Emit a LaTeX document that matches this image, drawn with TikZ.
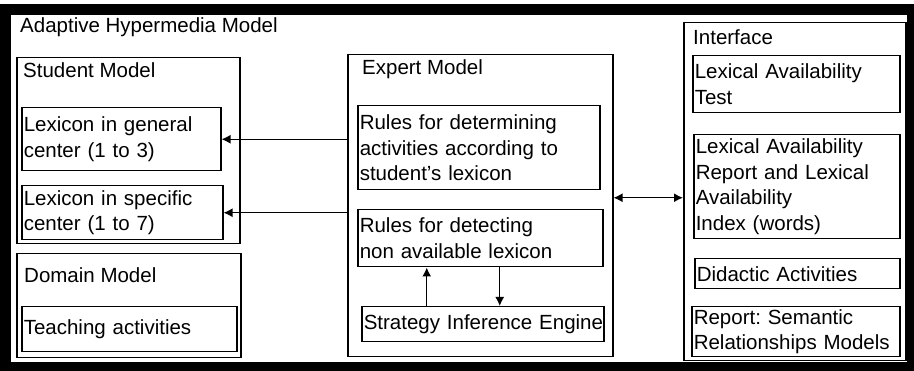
\documentclass[tikz,border=0pt]{standalone}
\usepackage{fontspec}
\setmainfont{Liberation Sans}
\usetikzlibrary{arrows.meta}
\newcommand{\boxfont}{\fontsize{20.5}{25.5}\selectfont\frenchspacing\hyphenpenalty=10000}

\begin{document}
\begin{tikzpicture}[x=1pt,y=-1pt,
  panel/.style={draw, line width=1.5pt, anchor=north west, inner sep=0pt},
  item/.style={draw, line width=1.5pt, anchor=north west, inner xsep=2pt, inner ysep=0pt, align=left, font=\boxfont},
  heading/.style={anchor=base west, inner sep=0pt, font=\boxfont},
  link/.style={-{Latex[length=9pt,width=9pt]}, line width=1.4pt},
  bilink/.style={{Latex[length=9pt,width=9pt]}-{Latex[length=9pt,width=9pt]}, line width=1.4pt}]
\useasboundingbox (0,0) rectangle (914,371);
\fill[white] (0,0) rectangle (914,371);

% outer frame
\fill[black] (0,4) rectangle (914,371);
\fill[white] (11,15) rectangle (907,362);
\node[heading] (ahm) at (20,33) {Adaptive Hypermedia Model};

% student model
\node[panel, minimum width=223pt, minimum height=186pt] (student) at (16,57) {};
\node[heading] (studentT) at ([xshift=7pt,yshift=-21pt]student.north west) {Student Model};
\node[item, text width=195pt, minimum height=63pt] (lexgen) at (21,107) {Lexicon in general\\center (1 to 3)};
\node[item, text width=197pt, minimum height=54pt] (lexspec) at (21,185) {Lexicon in specific\\center (1 to 7)};

% domain model
\node[panel, minimum width=224pt, minimum height=104pt] (domain) at (16,253) {};
\node[heading] (domainT) at ([xshift=8pt,yshift=-30pt]domain.north west) {Domain Model};
\node[item, text width=211pt, minimum height=45pt] (teach) at (21,306) {Teaching activities};

% expert model
\node[panel, minimum width=265pt, minimum height=302pt] (expert) at (347,54) {};
\node[heading] (expertT) at ([xshift=15pt,yshift=-21pt]expert.north west) {Expert Model};
\node[item, text width=238pt, minimum height=84pt] (determine) at (357,105) {Rules for determining\\activities according to\\student's lexicon};
\node[item, text width=241pt, minimum height=57pt] (detect) at (357,209) {Rules for detecting\\non available lexicon};
\node[item, text width=238pt, minimum height=35pt] (engine) at (361,306) {\mbox{Strategy Inference Engine}};

% interface
\node[panel, minimum width=222pt, minimum height=338pt] (iface) at (683,22) {};
\node[heading] (ifaceT) at ([xshift=10pt,yshift=-23pt]iface.north west) {Interface};
\node[item, text width=203pt, minimum height=57pt] (test) at (692,55) {Lexical Availability\\Test};
\node[item, text width=202pt, minimum height=104pt] (report) at (693,134) {Lexical Availability\\Report and Lexical\\Availability\\Index (words)};
\node[item, text width=201pt, minimum height=30pt] (didactic) at (694,258) {Didactic Activities};
\node[item, text width=204pt, minimum height=50pt] (semantic) at (691,306) {\mbox{Report: Semantic}\\\mbox{Relationships Models}};

% connectors
\draw[link] (expert.west |- lexgen.east) -- (lexgen.east);
\draw[link] (expert.west |- lexspec.east) -- (lexspec.east);
\coordinate (xlink) at ([yshift=8pt]expert.east);
\draw[bilink] (xlink) -- (xlink -| iface.west);
\coordinate (up) at ([xshift=-56pt]engine.north);
\draw[link] (up) -- (up |- detect.south);
\coordinate (down) at ([xshift=17pt]engine.north);
\draw[link] (down |- detect.south) -- (down);
\end{tikzpicture}
\end{document}
